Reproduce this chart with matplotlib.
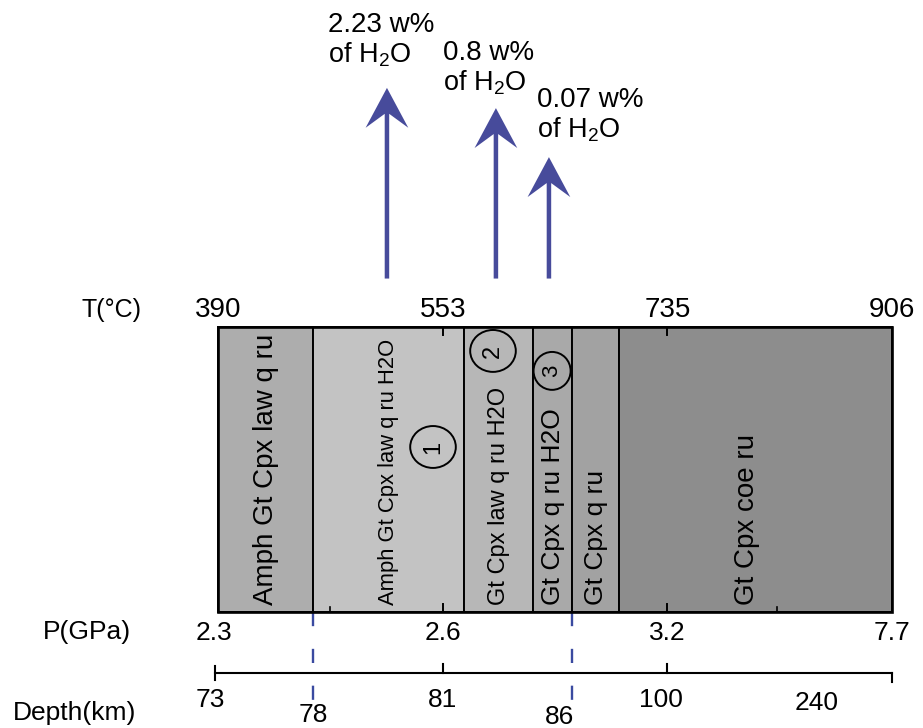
import matplotlib.pyplot as plt
from matplotlib.patches import Rectangle, Ellipse, FancyArrow

plt.rcParams['font.family'] = ['Liberation Sans', 'DejaVu Sans']
plt.rcParams['mathtext.fontset'] = 'custom'
plt.rcParams['mathtext.rm'] = 'Liberation Sans'
plt.rcParams['mathtext.it'] = 'Liberation Sans:italic'

# =========================
# data (profile position 0..3 = the four labelled ticks)
# =========================
temps = ['390', '553', '735', '906']
pressures = ['2.3', '2.6', '3.2', '7.7']
depths = ['73', '81', '100']
depth_far = '240'
depth_far_pos = 2.666

edges = [0, 0.423, 1.095, 1.402, 1.576, 1.785, 3.0]
assemblages = [
    'Amph Gt Cpx law q ru',
    'Amph Gt Cpx law q ru H2O',
    'Gt Cpx law q ru H2O',
    'Gt Cpx q ru H2O',
    'Gt Cpx q ru',
    'Gt Cpx coe ru',
]
fills = ['#adadad', '#c3c3c3', '#b7b7b7', '#a9a9a9', '#a2a2a2', '#8d8d8d']
boundary_depths = ['78', '86']   # at edges[1] and edges[4]

water = [2.23, 0.8, 0.07]        # w% of H2O released
water_pos = [0.752, 1.237, 1.473]
water_tip = [1.839, 1.768, 1.596]
circle_xy = [(0.957, 0.579), (1.224, 0.916), (1.487, 0.846)]

arrow_col = '#474b9b'
dash_col = '#3a4aa0'

fig = plt.figure(figsize=(9.23, 7.28), dpi=100)
ax = fig.add_axes([0, 0, 1, 1])
ax.set_xlim(-218 / 224.67, 705 / 224.67)
ax.set_ylim(-116 / 285, 612 / 285)
ax.axis('off')

# assemblage fields
label_fs = [20, 15.8, 17, 19, 19, 20]
for i, name in enumerate(assemblages):
    x0, x1 = edges[i], edges[i + 1]
    ax.add_patch(Rectangle((x0, 0), x1 - x0, 1, facecolor=fills[i],
                           edgecolor='black', linewidth=1.4))
    xc = (x0 + x1) / 2 - (0.04 if i == 5 else 0)
    ax.text(xc, 0.025, name, rotation=90, ha='center', va='bottom',
            fontsize=label_fs[i])
ax.add_patch(Rectangle((0, 0), 3, 1, fill=False, edgecolor='black',
                       linewidth=1.9, zorder=3))

# inner ticks
for t in [1, 2]:
    ax.plot([t, t], [1, 0.972], color='black', lw=1.4)
    ax.plot([t, t], [0, 0.028], color='black', lw=1.4)
for t in [0.5, 2.49]:
    ax.plot([t, t], [0, 0.018], color='black', lw=1.2)

# numbered circles
for k, (cx, cy) in enumerate(circle_xy):
    w, h = (0.165, 0.133) if k == 2 else (0.203, 0.147)
    ax.add_patch(Ellipse((cx, cy), w, h, fill=False, edgecolor='black',
                         linewidth=1.4, zorder=4))
    ax.text(cx, cy, str(k + 1), rotation=90, ha='center', va='center',
            fontsize=16 if k == 2 else 17, zorder=4)

# water release arrows and labels
for k, (wp, x, tip) in enumerate(zip(water, water_pos, water_tip)):
    tail = 1.17
    ax.add_patch(FancyArrow(x, tail, 0, tip - tail, width=0.02,
                            head_width=0.19, head_length=0.14,
                            overhang=0.35, length_includes_head=True,
                            color=arrow_col, linewidth=0))
text_x = [0.490, 1.001, 1.420]
text_y = [2.035, 1.937, 1.772]
for wp, tx, ty in zip(water, text_x, text_y):
    ax.text(tx, ty, f'{wp:g} w%', fontsize=20, ha='left', va='baseline')
    ax.text(tx, ty - 0.108, 'of H$_{2}$O', fontsize=19.5, ha='left',
            va='baseline')

# temperature row
ax.text(-0.476, 1.060, 'T(°C)', fontsize=18, ha='center', va='center')
for i, t in enumerate(temps):
    ax.text(i, 1.060, t, fontsize=20, ha='center', va='center')

# pressure row
ax.text(-0.583, -0.070, 'P(GPa)', fontsize=19, ha='center', va='center')
for i, p in enumerate(pressures):
    ax.text(i - (0.02 if i == 0 else 0), -0.074, p, fontsize=19,
            ha='center', va='center')

# depth scale
yd = -0.214
ax.plot([-0.015, 3.0], [yd, yd], color='black', lw=1.5)
ax.plot([-0.015, -0.015], [yd - 0.023, yd + 0.023], color='black', lw=1.5)
ax.plot([3.0, 3.0], [yd, yd - 0.03], color='black', lw=1.5)
for t in [1, 2]:
    ax.plot([t, t], [yd, yd + 0.03], color='black', lw=1.5)
ax.text(-0.639, -0.354, 'Depth(km)', fontsize=19, ha='center',
        va='center')
for i, d in enumerate(depths):
    ax.text(i - (0.035 if i == 0 else 0.03 * (i == 2)), -0.309, d,
            fontsize=19, ha='center', va='center')
ax.text(depth_far_pos, -0.319, depth_far, fontsize=19, ha='center',
        va='center')

# dashed boundaries down to depth
for k, e in enumerate([edges[1], edges[4]]):
    ax.plot([e, e], [0, -0.31], color=dash_col, lw=1.7,
            dashes=(6, 9.6), zorder=1)
    off = 0.0 if k == 0 else -0.055
    ax.text(e + off, -0.361 - 0.008 * k, boundary_depths[k],
            fontsize=19, ha='center', va='center')

plt.savefig('out.png', dpi=100)
